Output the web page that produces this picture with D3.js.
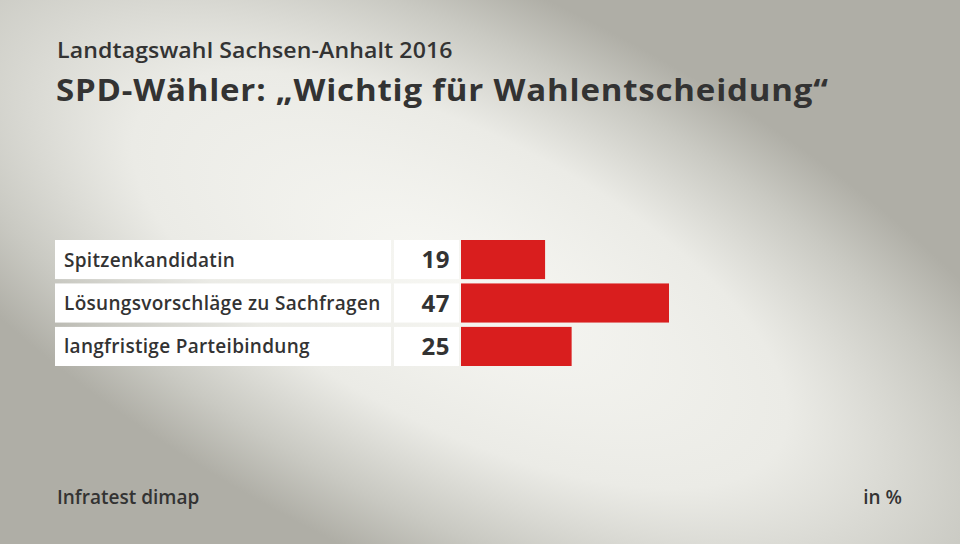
<!DOCTYPE html>
<html><head><meta charset="utf-8">
<script src="https://cdn.jsdelivr.net/npm/d3@7"></script>
<style>html,body{margin:0;padding:0;overflow:hidden;}svg{display:block;font-family:"Open Sans","Noto Sans",sans-serif;}</style>
</head><body>
<svg id="c" width="960" height="544"></svg>
<script>
const categories = ["Spitzenkandidatin", "Lösungsvorschläge zu Sachfragen", "langfristige Parteibindung"];
const values = [19, 47, 25];
const supertitle = "Landtagswahl Sachsen-Anhalt 2016";
const title = "SPD-Wähler: „Wichtig für Wahlentscheidung“";
const source = "Infratest dimap";
const unit = "in %";

const svg = d3.select("#c");
const defs = svg.append("defs");
const g = defs.append("radialGradient").attr("id","bg").attr("gradientUnits","userSpaceOnUse")
  .attr("cx",0).attr("cy",0).attr("r",1)
  .attr("gradientTransform","translate(460,280) rotate(27) scale(720,290)");
g.append("stop").attr("offset","0").attr("stop-color","#f7f7f3");
g.append("stop").attr("offset","0.5").attr("stop-color","#ebebe6");
g.append("stop").attr("offset","0.8").attr("stop-color","#c9c9c2");
g.append("stop").attr("offset","1").attr("stop-color","#afaea6");
svg.append("rect").attr("width",960).attr("height",544).attr("fill","url(#bg)");

svg.append("text").attr("transform","translate(57,58) scale(1.1,1)").attr("font-size",21).attr("font-weight",600).attr("fill","#333").attr("letter-spacing",0.1).text(supertitle);
svg.append("text").attr("transform","translate(56,101) scale(1.1,1)").attr("font-size",30).attr("font-weight",700).attr("fill","#333").attr("letter-spacing",0.75).text(title);

const y = d3.scaleBand().domain(categories).range([240, 366]).paddingInner(0.1).paddingOuter(0);
const x = d3.scaleLinear().domain([0, 47]).range([461, 669]);

const rows = svg.selectAll("g.row").data(categories).join("g").attr("class","row");
rows.append("rect").attr("x",55).attr("width",336).attr("y",d=>y(d)).attr("height",y.bandwidth()).attr("fill","#fff");
rows.append("rect").attr("x",394).attr("width",65).attr("y",d=>y(d)).attr("height",y.bandwidth()).attr("fill","#fff");
rows.append("rect").attr("x",x(0)).attr("width",(d,i)=>x(values[i])-x(0)).attr("y",d=>y(d)).attr("height",y.bandwidth()).attr("fill","#d91e1e");
rows.append("text").attr("x",64).attr("y",d=>y(d)+y.bandwidth()/2+7).attr("font-size",19).attr("font-weight",600).attr("fill","#333").attr("letter-spacing",0.3).text(d=>d);
rows.append("text").attr("x",450).attr("y",d=>y(d)+y.bandwidth()/2+8.5).attr("text-anchor","end").attr("font-size",24).attr("font-weight",700).attr("fill","#333").attr("letter-spacing",0.5).text((d,i)=>values[i]);

svg.append("text").attr("x",57).attr("y",504).attr("font-size",19).attr("font-weight",600).attr("fill","#333").text(source);
svg.append("text").attr("x",902).attr("y",504).attr("text-anchor","end").attr("font-size",19).attr("font-weight",600).attr("fill","#333").text(unit);
</script>
</body></html>
